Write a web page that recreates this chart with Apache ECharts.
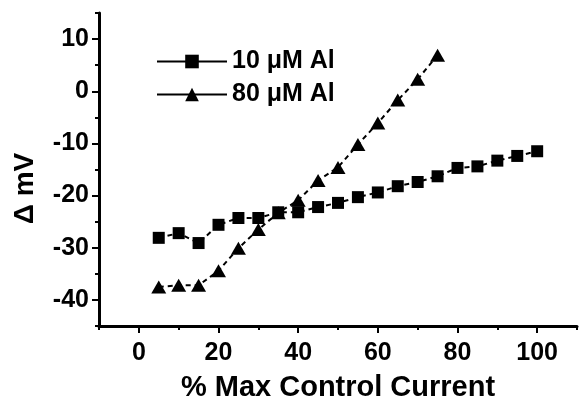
<!DOCTYPE html>
<html>
<head>
<meta charset="utf-8">
<script src="https://cdn.jsdelivr.net/npm/echarts@6/dist/echarts.min.js"></script>
<style>
  html, body { margin: 0; padding: 0; background: #fff; }
  #chart { width: 579px; height: 399px; }
</style>
</head>
<body>
<div id="chart"></div>
<script>
const FONT = "'Liberation Sans', Arial, sans-serif";

const xSquare = [5, 10, 15, 20, 25, 30, 35, 40, 45, 50, 55, 60, 65, 70, 75, 80, 85, 90, 95, 100];
const al10 = [-28.1, -27.2, -29.1, -25.6, -24.3, -24.3, -23.2, -23.2, -22.2, -21.4,
  -20.3, -19.4, -18.2, -17.4, -16.3, -14.7, -14.4, -13.3, -12.4, -11.5];
const xTriangle = [5, 10, 15, 20, 25, 30, 35, 40, 45, 50, 55, 60, 65, 70, 75];
const al80 = [-37.5, -37.2, -37.2, -34.4, -30.1, -26.5, -23.3, -20.9, -17.1, -14.6,
  -10.2, -6.1, -1.7, 2.3, 6.9];

const xMajor = [0, 20, 40, 60, 80, 100];
const xMinor = [-10, 10, 30, 50, 70, 90, 110];
const yMajor = [-40, -30, -20, -10, 0, 10];
const yMinor = [-45, -35, -25, -15, -5, 5, 15];

const chart = echarts.init(document.getElementById("chart"), null, { renderer: "canvas" });

// axes that only draw ticks (major / minor), stacked on the main axis
function tickAxis(min, max, pos, values, len) {
  return {
    type: "value", min, max, position: pos,
    axisLine: { show: false, onZero: false },
    splitLine: { show: false },
    axisTick: { show: true, customValues: values, length: len, lineStyle: { width: 2, color: "#000" } },
    axisLabel: { show: false },
  };
}

chart.setOption({
  backgroundColor: "#fff",
  animation: false,
  grid: { left: 99, right: 2, top: 13, bottom: 73, outerBoundsMode: "none", containLabel: false },
  legend: {
    orient: "vertical",
    left: 156,
    top: 49,
    padding: 0,
    itemWidth: 70,
    itemHeight: 17,
    itemGap: 8,
    lineStyle: { type: "solid", width: 2, color: "#000" },
    textStyle: { fontFamily: FONT, fontWeight: "bold", fontSize: 25, color: "#000" },
    data: ["10 μM Al", "80 μM Al"],
  },
  xAxis: [
    {
      type: "value", min: -10, max: 110, position: "bottom",
      axisLine: { show: true, onZero: false, lineStyle: { color: "#000", width: 3 } },
      splitLine: { show: false },
      axisTick: { show: false },
      axisLabel: { customValues: xMajor, margin: 15, fontFamily: FONT, fontWeight: "bold", fontSize: 25, color: "#000" },
      name: "% Max Control Current",
      nameLocation: "middle",
      nameGap: 47,
      nameTextStyle: { fontFamily: FONT, fontWeight: "bold", fontSize: 29, color: "#000" },
    },
    tickAxis(-10, 110, "bottom", xMajor, 7),
    tickAxis(-10, 110, "bottom", xMinor, 4),
  ],
  yAxis: [
    {
      type: "value", min: -45, max: 15, position: "left",
      axisLine: { show: true, onZero: false, lineStyle: { color: "#000", width: 3 } },
      splitLine: { show: false },
      axisTick: { show: false },
      axisLabel: { customValues: yMajor, margin: 10, fontFamily: FONT, fontWeight: "bold", fontSize: 25, color: "#000" },
      name: "Δ mV",
      nameLocation: "middle",
      nameGap: 60,
      nameTextStyle: { fontFamily: FONT, fontWeight: "bold", fontSize: 28, color: "#000", padding: [0, 38, 0, 0] },
    },
    tickAxis(-45, 15, "left", yMajor, 7),
    tickAxis(-45, 15, "left", yMinor, 4),
  ],
  series: [
    {
      name: "10 μM Al",
      type: "line",
      data: xSquare.map((x, i) => [x, al10[i]]),
      symbol: "rect",
      symbolSize: 12,
      itemStyle: { color: "#000" },
      lineStyle: { color: "#000", width: 2, type: [5, 4] },
    },
    {
      name: "80 μM Al",
      type: "line",
      data: xTriangle.map((x, i) => [x, al80[i]]),
      symbol: "triangle",
      symbolSize: [15, 13],
      itemStyle: { color: "#000" },
      lineStyle: { color: "#000", width: 2, type: [5, 4] },
    },
  ],
});
</script>
</body>
</html>
